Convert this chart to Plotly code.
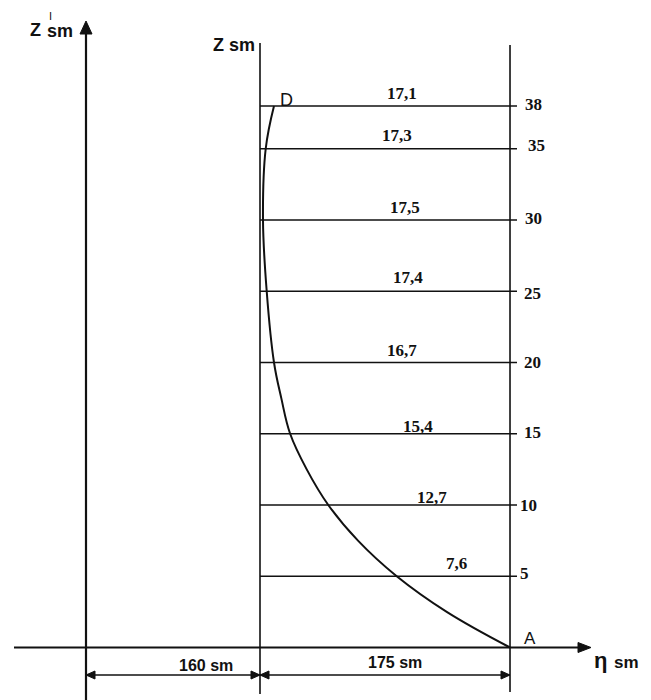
import plotly.graph_objects as go

# ---------------- data ----------------
levels = [5, 10, 15, 20, 25, 30, 35, 38]
level_values = ["7,6", "12,7", "15,4", "16,7", "17,4", "17,5", "17,3", "17,1"]
level_ticks = ["5", "10", "15", "20", "25", "30", "35", "38"]

curve_z = [0, 2.5, 5, 7.5, 10, 12.5, 15, 17.5, 20, 25, 30, 35, 38]
curve_eta = [175, 130.7, 95.7, 68.6, 47.8, 32.7, 21.1, 14.9, 9.8, 4.7, 2.1, 4.0, 9.8]

span_right = 175      # sm, Z line -> A
span_left = 160       # sm, Z' line -> Z line (label)
left_axis_draw = -121.8  # drawing position of Z' axis (drawing not to scale)

# ---------------- geometry helpers (layout) ----------------
W, H = 651, 700
PAGE_OFFSET = 8          # default body margin of the page
PX_X0, PX_PER_SM = 260.0, 1.4286
PX_Y0, PX_PER_Z = 647.5, 14.25


def X(px):
    return (px - PX_X0) / PX_PER_SM


def Z(py):
    return (PX_Y0 - py) / PX_PER_Z


BLACK = "#111111"
fig = go.Figure()


def line(xs, zs, width=1.6):
    fig.add_trace(go.Scatter(x=xs, y=zs, mode="lines",
                             line=dict(color=BLACK, width=width),
                             hoverinfo="skip", showlegend=False))


def tri(tip_x, tip_z, direction, length_px, half_px):
    # filled arrowhead triangle, direction in {'up','right','left'}
    if direction == "up":
        bx = [tip_x - half_px / PX_PER_SM, tip_x + half_px / PX_PER_SM]
        bz = tip_z - length_px / PX_PER_Z
        xs = [tip_x, bx[0], bx[1], tip_x]
        zs = [tip_z, bz, bz, tip_z]
    else:
        sgn = 1 if direction == "right" else -1
        bxx = tip_x - sgn * length_px / PX_PER_SM
        dz = half_px / PX_PER_Z
        xs = [tip_x, bxx, bxx, tip_x]
        zs = [tip_z, tip_z + dz, tip_z - dz, tip_z]
    fig.add_trace(go.Scatter(x=xs, y=zs, mode="lines", fill="toself",
                             fillcolor=BLACK, line=dict(color=BLACK, width=1),
                             hoverinfo="skip", showlegend=False))


# Z' axis with arrow
line([left_axis_draw, left_axis_draw], [Z(710), Z(33)], 2.2)
tri(left_axis_draw, Z(21), "up", 13, 6)

# Z line and right vertical line
line([0, 0], [Z(694), Z(43)], 1.6)
line([span_right, span_right], [Z(692), Z(45)], 1.6)

# baseline eta axis with arrow
line([X(14), X(580)], [0, 0], 2.2)
tri(X(591), 0, "right", 13, 5)

# level lines
for lv in levels:
    line([0, X(517)], [lv, lv], 1.6)

# curve A -> D
fig.add_trace(go.Scatter(x=curve_eta, y=curve_z, mode="lines",
                         line=dict(color=BLACK, width=2, shape="spline", smoothing=1.1),
                         hoverinfo="skip", showlegend=False))

# dimension lines
zd = Z(675)
line([left_axis_draw, 0], [zd, zd], 1.4)
line([0, span_right], [zd, zd], 1.4)
tri(left_axis_draw, zd, "left", 9, 4)
tri(0, zd, "right", 9, 4)
tri(0, zd, "left", 9, 4)
tri(span_right, zd, "right", 9, 4)

# ---------------- texts ----------------
ann = []
SERIF = "Liberation Serif"
SANS = "Liberation Sans"


def text(t, px, py, size, family=SANS, weight="bold", xanchor="center"):
    ann.append(dict(x=X(px), y=Z(py), xref="x", yref="y", text=t, showarrow=False,
                    xanchor=xanchor, yanchor="middle",
                    font=dict(family=family, size=size, color=BLACK, weight=weight)))


value_px = [(456, 563), (432, 497), (418, 426), (402, 350), (408, 277), (405, 207), (397, 135), (402, 93)]
tick_px = [(518, 573), (518, 505), (522, 432), (522, 362), (522, 293), (523, 218), (526, 145), (523, 104)]

for v, (px, py) in zip(level_values, value_px):
    text(v, px, py, 17, SERIF)
for t, (px, py) in zip(level_ticks, tick_px):
    text(t, px, py, 17, SERIF, xanchor="left")

text("Z sm", 257, 45, 18, xanchor="right")
text("Z", 35.5, 30, 18)
text("I", 50, 16, 11, weight="normal")
text("sm", 59.5, 31, 18)
text("D", 286, 100, 18, weight="normal")
text("A", 530, 638, 17, weight="normal")
text("η", 600, 660, 22)
text("sm", 626, 662, 17)
text(f"{span_left} sm", 206, 665, 16)
text(f"{span_right} sm", 395, 662, 16)

fig.update_layout(
    width=W, height=H,
    margin=dict(l=0, r=0, t=0, b=0),
    paper_bgcolor="white", plot_bgcolor="white",
    xaxis=dict(range=[X(PAGE_OFFSET), X(W + PAGE_OFFSET)], visible=False, fixedrange=True),
    yaxis=dict(range=[Z(H + PAGE_OFFSET), Z(PAGE_OFFSET)], visible=False, fixedrange=True),
    annotations=ann,
    showlegend=False,
)

fig.write_html("out.html")
